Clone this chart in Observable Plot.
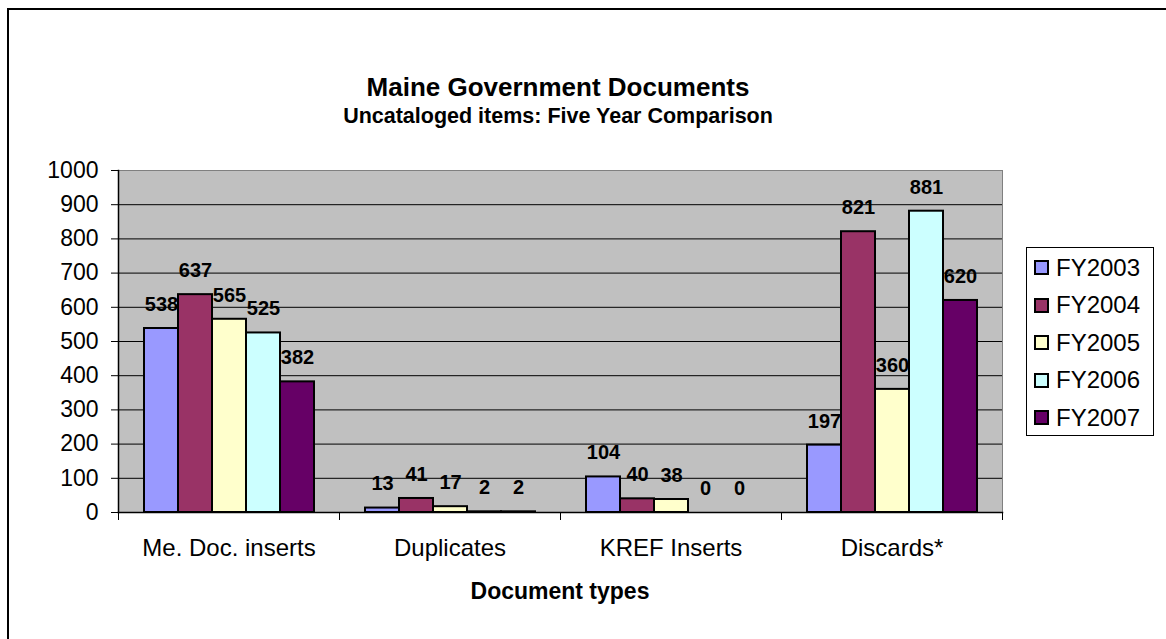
<!DOCTYPE html>
<html><head><meta charset="utf-8">
<script src="https://cdn.jsdelivr.net/npm/d3@7"></script>
<script src="https://cdn.jsdelivr.net/npm/@observablehq/plot@0.6"></script>
<style>
html,body{margin:0;padding:0;background:#fff;overflow:hidden;}
#chart{position:relative;width:1166px;height:639px;font-family:"Liberation Sans",Arial,sans-serif;color:#000;overflow:hidden;}
#border{position:absolute;left:7px;top:8px;width:1200px;height:700px;border:2px solid #000;box-sizing:border-box;pointer-events:none;}
#title{position:absolute;left:0;width:1116px;top:74px;font-size:26px;font-weight:bold;line-height:26px;text-align:center;white-space:nowrap;}
#subtitle{position:absolute;left:0;width:1116px;top:106px;font-size:21.5px;font-weight:bold;line-height:21.5px;text-align:center;white-space:nowrap;}
#plot{position:absolute;left:0;top:120px;}
#xlabel{position:absolute;left:117px;width:886px;top:580px;font-size:23px;font-weight:bold;line-height:23px;text-align:center;}
#legend{position:absolute;left:1026px;top:247px;width:128px;height:189px;border:1px solid #000;box-sizing:border-box;background:#fff;padding-top:1px;}
.row{height:37.5px;display:flex;align-items:center;padding-left:7px;font-size:24px;}
.sw{width:15px;height:15px;border:2px solid #000;box-sizing:border-box;margin-right:7px;}
</style>
</head><body>
<div id="chart">
  <div id="plot"></div>
  <div id="title">Maine Government Documents</div>
  <div id="subtitle">Uncataloged items: Five Year Comparison</div>
  <div id="xlabel">Document types</div>
  <div id="legend"></div>
  <div id="border"></div>
</div>
<script>
const categories = ["Me. Doc. inserts", "Duplicates", "KREF Inserts", "Discards*"];
const years = ["FY2003", "FY2004", "FY2005", "FY2006", "FY2007"];
const fy2003 = [538, 13, 104, 197];
const fy2004 = [637, 41, 40, 821];
const fy2005 = [565, 17, 38, 360];
const fy2006 = [525, 2, 0, 881];
const fy2007 = [382, 2, 0, 620];
const colors = ["#9999FF", "#993366", "#FFFFCC", "#CCFFFF", "#660066"];
const yTicks = [0, 100, 200, 300, 400, 500, 600, 700, 800, 900, 1000];

const series = [fy2003, fy2004, fy2005, fy2006, fy2007];
const data = [];
categories.forEach((c, i) => {
  years.forEach((y, j) => data.push({category: c, year: y, value: series[j][i]}));
});

const plotH = 480, mTop = 50, mBottom = 88;
const innerH = plotH - mTop - mBottom;

const chart = Plot.plot({
  width: 1166,
  height: plotH,
  marginLeft: 117,
  marginRight: 163,
  marginTop: mTop,
  marginBottom: mBottom,
  style: {fontFamily: "'Liberation Sans', Arial, sans-serif", background: "transparent", color: "#000"},
  fx: {domain: categories, padding: 0, axis: null},
  x: {domain: years, paddingInner: 0, paddingOuter: 0.75, axis: null},
  y: {domain: [0, 1000], axis: null},
  color: {domain: years, range: colors},
  marks: [
    Plot.frame({facet: "super", fill: "#C0C0C0", stroke: "#808080"}),
    Plot.gridY(yTicks.filter(d => d > 0 && d < 1000), {stroke: "#000", strokeOpacity: 1, strokeWidth: 1}),
    Plot.barY(data, {fx: "category", x: "year", y: "value", fill: "year", stroke: "#000", strokeWidth: 2}),
    Plot.text(data, {fx: "category", x: "year", y: "value", text: d => String(d.value), dy: -24, lineAnchor: "middle", fontWeight: "bold", fontSize: 20, fill: "#000"}),
    Plot.frame({facet: "super", anchor: "left", stroke: "#000", strokeWidth: 1.5}),
    Plot.frame({facet: "super", anchor: "bottom", stroke: "#000", strokeWidth: 1.5}),
    Plot.frame({anchor: "left", stroke: "#000", insetTop: innerH, insetBottom: -7}),
    Plot.frame({facet: "super", anchor: "right", stroke: "#000", insetTop: innerH, insetBottom: -7}),
    Plot.axisY({ticks: yTicks, tickFormat: d => String(d), tickSize: 7, tickPadding: 13, fontSize: 23, label: null, stroke: "#000"}),
    Plot.axisFx({anchor: "bottom", tickSize: 0, tickPadding: 26, fontSize: 24, label: null})
  ]
});
document.getElementById("plot").appendChild(chart);

const legend = document.getElementById("legend");
years.forEach((y, i) => {
  const row = document.createElement("div");
  row.className = "row";
  const sw = document.createElement("span");
  sw.className = "sw";
  sw.style.background = colors[i];
  row.appendChild(sw);
  row.appendChild(document.createTextNode(y));
  legend.appendChild(row);
});
</script>
</body></html>
